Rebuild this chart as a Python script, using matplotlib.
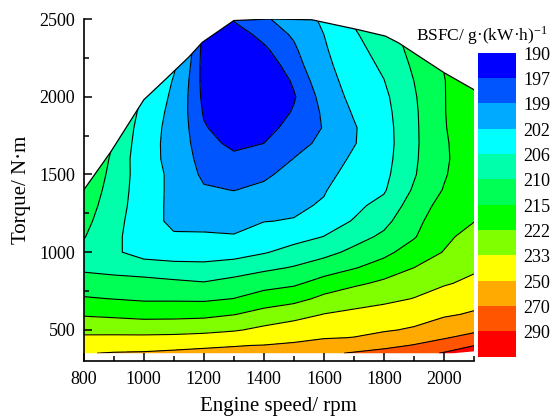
import numpy as np
import matplotlib
matplotlib.use("Agg")
import matplotlib.pyplot as plt
from matplotlib.patches import Polygon

plt.rcParams["font.family"] = ["Liberation Serif", "DejaVu Serif"]
plt.rcParams["mathtext.fontset"] = "stix"

# measured grid: engine speed (rpm) x torque (N*m), BSFC in g/(kW*h)
speed = [800, 900, 1000, 1100, 1200, 1300, 1400, 1500, 1600, 1700, 1800, 1900, 2000, 2100]
torque = [350, 400, 450, 500, 600, 700, 800, 900, 1000, 1100, 1200, 1300,
          1400, 1500, 1600, 1700, 1800, 1900, 2000, 2100, 2200, 2300, 2400, 2500]

# one list per speed, bottom (350) to top (2500)
bsfc_800 = [249.2, 242, 235, 229.5, 221, 215.5, 212.0, 209.2, 209.0, 210.2, 211.0, 211.8,
            212.6, 213.4, 214.2, 215, 216, 217, 218, 219, 220, 221, 222, 223]
bsfc_900 = [251, 243, 235.2, 229.3, 220.0, 214.9, 211.7, 208.5, 206.8, 207.2, 207.6, 208.0,
            208.4, 208.8, 209.2, 209.8, 210.5, 211.2, 212, 213, 214, 215, 216, 217]
bsfc_1000 = [251.5, 244, 235.5, 228.5, 219.0, 214.3, 211.0, 208.5, 204.0, 203.0, 203.2, 203.6,
             203.7, 203.7, 203.3, 203.5, 203.8, 204.5, 205.5, 206.5, 207.5, 208.5, 209.5, 210.5]
bsfc_1100 = [252, 247, 235.8, 229.0, 219.0, 214.3, 210.8, 207.4, 204.0, 202.3, 201.4, 201.2,
             201.2, 201.2, 201.0, 200.8, 200.8, 200.9, 201.2, 201.7, 202.5, 203.5, 204.5, 205.5]
bsfc_1200 = [252.5, 248.5, 237.1, 229.8, 219.5, 214.1, 210.3, 206.9, 204.5, 202.3, 201.3, 200.2,
             199.3, 198.5, 198.0, 197.6, 197.2, 196.8, 196.5, 196.3, 196.2, 196.2, 196.3, 196.5]
bsfc_1300 = [253, 249.5, 240, 231.7, 221.7, 215.1, 211.5, 207.7, 204.6, 202.2, 201.0, 200.0,
             198.95, 198.2, 197.4, 196.6, 195.8, 195.0, 194.5, 194.3, 194.5, 195.0, 196.0, 197.2]
bsfc_1400 = [254, 250.4, 243.1, 235.8, 224.9, 217.6, 212.8, 209.1, 205.7, 203.8, 201.9, 200.7,
             199.5, 198.6, 197.8, 197.0, 196.2, 195.5, 195.0, 194.8, 195.7, 196.6, 197.6, 198.7]
bsfc_1500 = [258, 252.5, 246, 239.9, 228.1, 219.3, 214.0, 210.3, 207.3, 204.7, 202.2, 201.3,
             200.6, 199.8, 199.04, 198.4, 197.8, 197.2, 196.8, 197.3, 198.0, 198.6, 199.3, 200.0]
bsfc_1600 = [267, 259, 248.7, 243.4, 233.3, 224.0, 217.2, 212.2, 208.7, 206.05, 204.5, 202.4,
             201.7, 200.8, 200.0, 199.4, 199.1, 199.3, 199.8, 200.4, 201.0, 201.5, 202.0, 202.6]
bsfc_1700 = [271.5, 261, 250.4, 245.4, 235.8, 227.6, 220.4, 214.6, 211.0, 208.4, 206.2, 205.2,
             204.4, 203.5, 202.6, 201.8, 201.7, 202.3, 203.0, 203.6, 204.2, 204.9, 205.6, 206.4]
bsfc_1800 = [276, 265.4, 256, 248.2, 238.4, 230.1, 223.6, 217.5, 213.5, 210.8, 208.8, 207.1,
             205.6, 205.0, 204.6, 204.4, 204.5, 204.8, 205.2, 205.9, 206.6, 207.3, 208.0, 208.7]
bsfc_1900 = [282, 271, 262, 252, 242.5, 233.4, 227.6, 222.0, 217.7, 214.5, 213.2, 211.9,
             210.5, 209.6, 209.3, 209.1, 209.1, 209.2, 209.5, 210.0, 210.6, 211.3, 212.0, 212.8]
bsfc_2000 = [291.5, 279, 268.5, 261, 247.6, 239.2, 231.7, 227.0, 222.3, 220.4, 218.7, 217.0,
             215.3, 214.5, 214.2, 214.4, 214.7, 214.8, 214.8, 214.8, 215.2, 215.8, 216.4, 217]
bsfc_2100 = [300, 289.6, 276.4, 266.3, 252, 243.5, 235.9, 231.1, 228, 224.7, 221.8, 220.5,
             219.5, 218.8, 218.3, 218.0, 218.0, 218.2, 218.5, 219, 219.6, 220.2, 220.8, 221.4]

# outline of the measured map (full-load line on top)
edge_speed = [800, 890, 1000, 1078, 1150, 1195, 1300, 1420, 1560, 1715, 1805, 1850, 2000, 2100]
edge_torque = [1400, 1645, 1980, 2122, 2255, 2350, 2490, 2500, 2495, 2431, 2390, 2345, 2155, 2045]
low_speed = [2100, 2030, 800]
low_torque = [362, 350, 350]

levels = [197, 199, 202, 206, 210, 215, 222, 233, 250, 270, 290]
legend_values = [190, 197, 199, 202, 206, 210, 215, 222, 233, 250, 270, 290]
colors = ["#0000FF", "#0055FF", "#00AAFF", "#00FFFF", "#00FFAA", "#00FF55",
          "#00FF00", "#80FF00", "#FFFF00", "#FFAA00", "#FF5500", "#FF0000"]

Z = np.array([bsfc_800, bsfc_900, bsfc_1000, bsfc_1100, bsfc_1200, bsfc_1300, bsfc_1400,
              bsfc_1500, bsfc_1600, bsfc_1700, bsfc_1800, bsfc_1900, bsfc_2000, bsfc_2100]).T
X, Y = np.meshgrid(speed, torque)

fig = plt.figure(figsize=(5.52, 4.19), dpi=100)
ax = fig.add_axes([83.7 / 552, 1 - 361 / 419, (474 - 83.7) / 552, (361 - 19) / 419])

cf = ax.contourf(X, Y, Z, levels=[150] + levels + [350], colors=colors)
cl = ax.contour(X, Y, Z, levels=levels, colors="k", linewidths=0.8)
clip = Polygon(np.column_stack([edge_speed + low_speed, edge_torque + low_torque]),
               closed=True, transform=ax.transData)
cf.set_clip_path(clip)
cl.set_clip_path(clip)
ax.plot(edge_speed, edge_torque, color="k", lw=0.9)

ax.set_xlim(800, 2100)
ax.set_ylim(300, 2500)
ax.set_xticks(range(800, 2001, 200))
ax.set_xticks(range(900, 2101, 200), minor=True)
ax.set_yticks(range(500, 2501, 500))
ax.set_yticks(range(750, 2500, 500), minor=True)
ax.tick_params(which="both", direction="in", width=1.1, labelsize=13)
ax.tick_params(which="major", length=5.5)
ax.tick_params(which="minor", length=3.5)
ax.tick_params(axis="x", pad=7)
ax.tick_params(axis="y", pad=6)
for s in ("top", "right"):
    ax.spines[s].set_visible(False)
for s in ("left", "bottom"):
    ax.spines[s].set_linewidth(1.2)
ax.set_xlabel("Engine speed/ rpm", fontsize=15, labelpad=7)
ax.set_ylabel("Torque/ N·m", fontsize=15, labelpad=6)

# stacked colour key
lax = fig.add_axes([478.3 / 552, 1 - 356.7 / 419, 37.7 / 552, 304 / 419])
n = len(colors)
lax.barh(np.arange(n) + 0.5, [1] * n, height=1.0, left=0, color=colors)
lax.set_xlim(0, 1)
lax.set_ylim(n, 0)
lax.axis("off")
for i, v in enumerate(legend_values):
    lax.text(1.2, i + 0.1, str(v), ha="left", va="center", fontsize=13, clip_on=False)
fig.text(416 / 552, 1 - 36 / 419, r"BSFC/ g·(kW·h)$^{\mathregular{-1}}$", ha="left", va="center",
         fontsize=12.5)

fig.savefig("out.png", dpi=100)
